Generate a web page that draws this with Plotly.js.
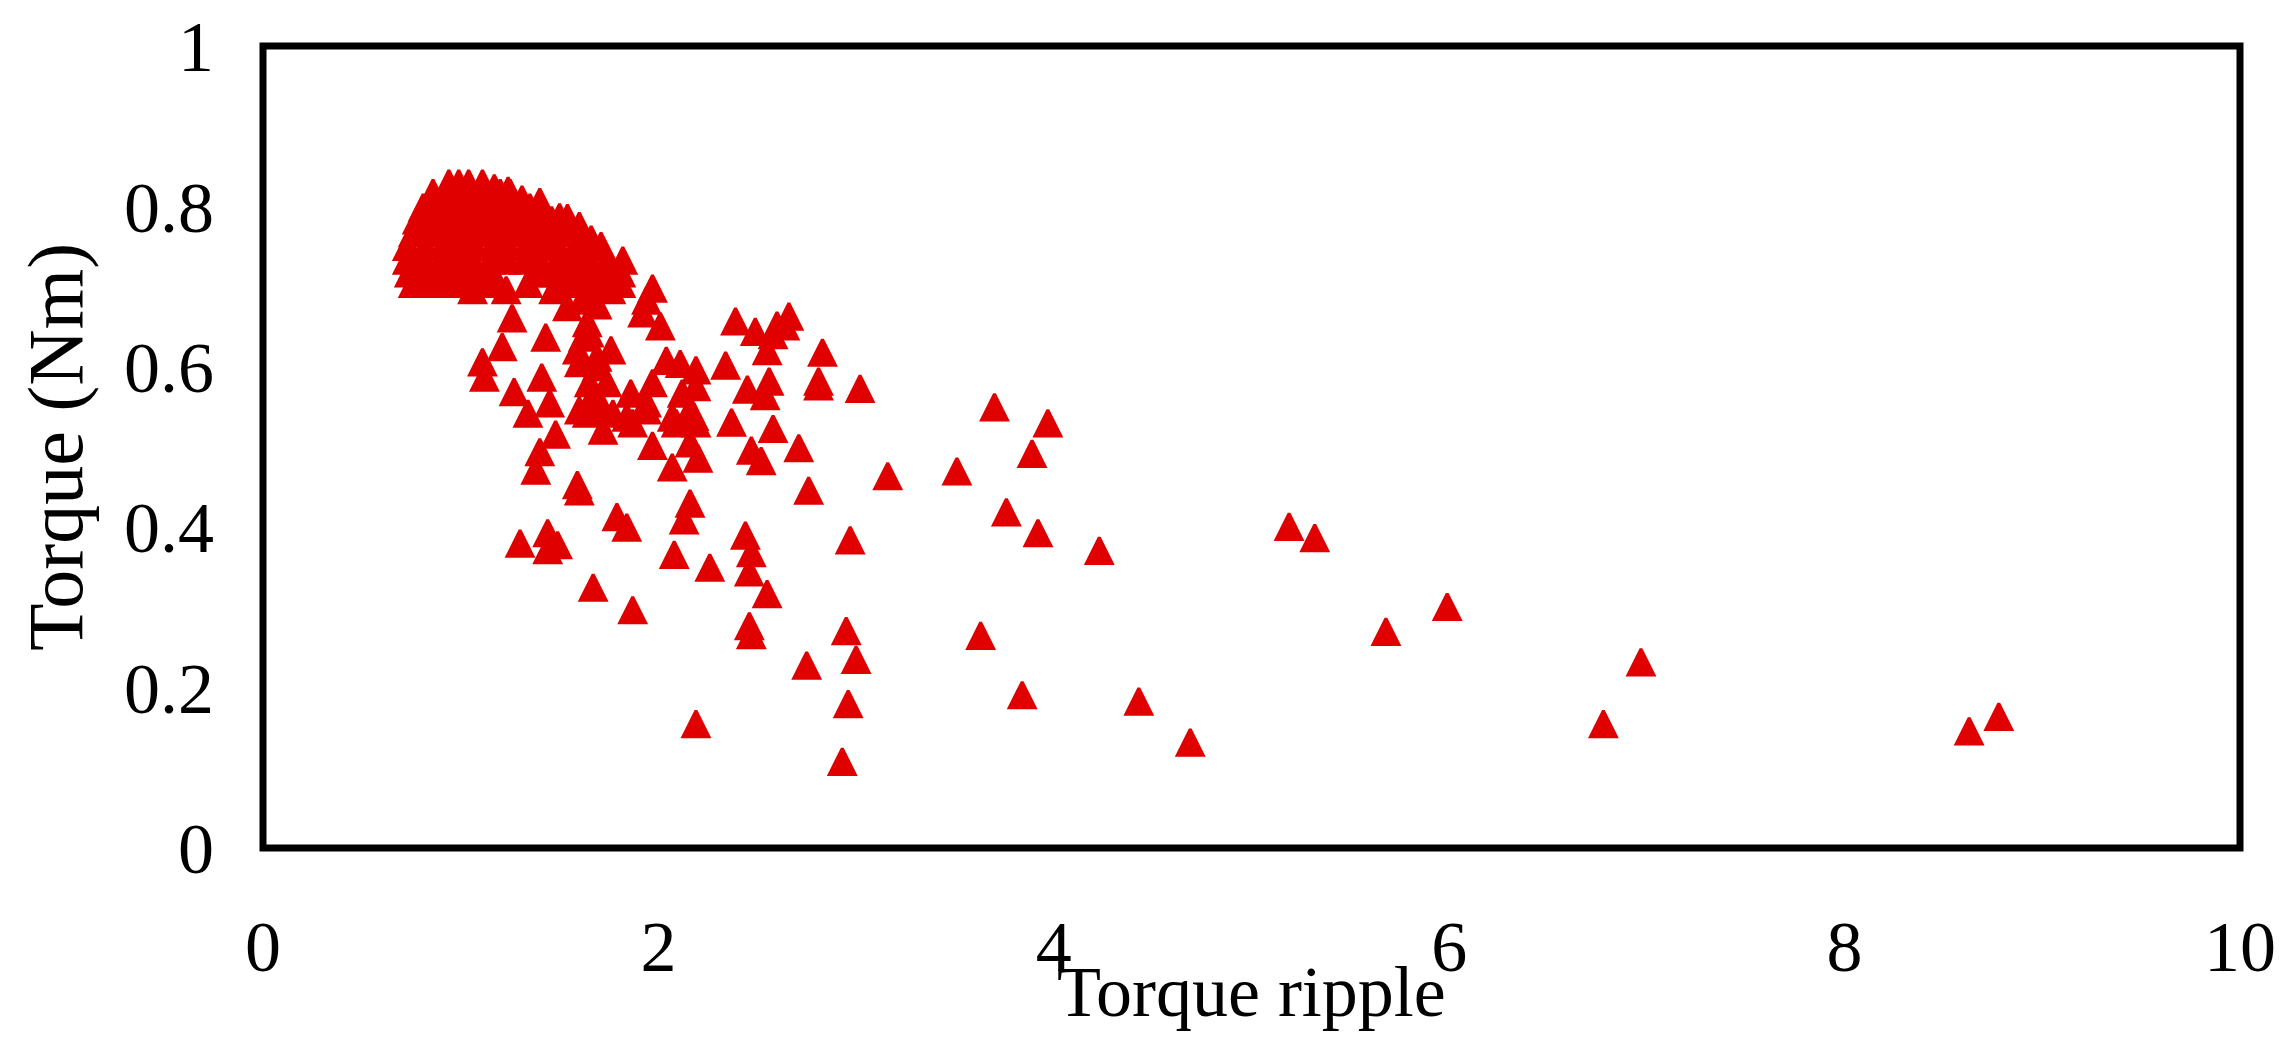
<!DOCTYPE html>
<html>
<head>
<meta charset="utf-8">
<script src="https://cdn.plot.ly/plotly-3.0.1.min.js"></script>
<style>
  html, body { margin: 0; padding: 0; background: #ffffff; }
  #chart { width: 2291px; height: 1055px; }
</style>
</head>
<body>
<div id="chart"></div>
<script>
// Torque ripple (x) vs Torque in Nm (y)
const torqueRipple = [
  // dense cluster
  0.94, 0.99, 1.04, 1.11,
  0.86, 0.93, 1.00, 1.06, 1.13, 1.20, 1.25, 1.17, 1.24, 1.31, 1.40,
  0.81, 0.88, 0.95, 1.01, 1.08, 1.15, 1.21, 1.28, 1.35, 1.40,
  1.50, 1.54, 1.60,
  0.78, 0.85, 0.93, 1.01, 1.08, 1.16, 1.23, 1.31, 1.39, 1.46,
  0.76, 0.84, 0.93, 1.01, 1.10, 1.18, 1.26, 1.35, 1.44, 1.52, 1.60, 1.66, 1.71,
  0.73, 0.82, 0.91, 0.99, 1.07, 1.16, 1.24, 1.33, 1.41, 1.49, 1.58, 1.66,
  0.73, 0.81, 0.90, 0.98, 1.06, 1.15, 1.23, 1.32, 1.40, 1.49, 1.57, 1.65, 1.74, 1.82,
  0.74, 0.83, 0.90, 1.00, 1.08, 1.16, 1.39, 1.47, 1.55, 1.64, 1.72, 1.81,
  0.76, 0.86, 0.96, 1.06, 1.15, 1.34, 1.54, 1.64, 1.74, 1.81,
  1.06, 1.23, 1.47, 1.64, 1.76,
  1.54, 1.69, 1.62,
  // middle group
  1.26, 1.21, 1.11, 1.12, 1.43, 1.41, 1.27, 1.34, 1.40, 1.38, 1.48, 1.59, 1.60,
  1.79, 1.84, 1.44, 1.30, 1.49, 1.44, 2.16, 2.13, 2.44, 2.08, 2.26, 1.67, 1.87, 2.19,
  1.62, 1.76, 1.60, 1.69, 1.64, 1.94, 1.92, 2.01, 1.97,
  2.04, 2.11, 2.19, 1.97, 2.19, 1.86, 1.94, 2.16, 2.07, 1.87, 2.19, 1.97, 2.16, 2.07, 2.20,
  1.69, 1.64, 1.72, 1.60, 1.77, 1.84,
  1.65, 1.59, 1.69, 1.45, 1.65, 1.64, 1.74, 1.69, 1.94, 2.12, 2.18, 2.09,
  // spread group
  2.39, 2.49, 2.66, 2.64, 2.55, 2.56, 2.45, 2.54, 2.34, 2.83, 2.81, 2.81, 3.02, 2.58, 2.60,
  2.37, 2.58, 2.47, 2.52, 2.71, 2.76, 3.16, 3.51, 3.70, 3.97, 3.89, 3.76, 3.92, 4.23,
  2.47, 2.46, 2.55, 2.97, 2.46, 2.47, 2.75, 2.95, 3.00, 3.63, 2.96, 2.93, 3.84, 4.43, 4.69,
  // far right
  5.19, 5.32, 5.68, 5.99, 6.78, 6.97, 8.63, 8.78
];
const torqueNm = [
  0.829, 0.829, 0.829, 0.829,
  0.817, 0.817, 0.817, 0.817, 0.817, 0.817, 0.817, 0.823, 0.820, 0.809, 0.806,
  0.799, 0.799, 0.799, 0.799, 0.799, 0.799, 0.799, 0.799, 0.799, 0.799,
  0.787, 0.786, 0.776,
  0.783, 0.783, 0.783, 0.783, 0.783, 0.783, 0.783, 0.783, 0.783, 0.783,
  0.767, 0.767, 0.767, 0.767, 0.767, 0.767, 0.767, 0.767, 0.767, 0.767, 0.767, 0.759, 0.751,
  0.750, 0.750, 0.750, 0.750, 0.750, 0.750, 0.750, 0.750, 0.750, 0.750, 0.750, 0.750,
  0.733, 0.733, 0.733, 0.733, 0.733, 0.733, 0.733, 0.733, 0.733, 0.733, 0.733, 0.733, 0.733, 0.733,
  0.717, 0.717, 0.717, 0.717, 0.717, 0.717, 0.717, 0.717, 0.717, 0.717, 0.717, 0.717,
  0.704, 0.704, 0.704, 0.704, 0.704, 0.704, 0.704, 0.704, 0.704, 0.704,
  0.696, 0.696, 0.696, 0.696, 0.696,
  0.675, 0.677, 0.683,
  0.661, 0.625, 0.606, 0.587, 0.637, 0.587, 0.569, 0.542, 0.494, 0.471, 0.516, 0.453, 0.445,
  0.413, 0.400, 0.393, 0.380, 0.378, 0.372, 0.430, 0.409, 0.390, 0.366, 0.350, 0.325, 0.297, 0.155,
  0.637, 0.621, 0.605, 0.600, 0.655, 0.683, 0.667, 0.651, 0.698,
  0.608, 0.604, 0.596, 0.580, 0.575, 0.567, 0.555, 0.546, 0.537, 0.530, 0.530, 0.502, 0.505, 0.475, 0.486,
  0.562, 0.542, 0.521, 0.546, 0.542, 0.537,
  0.642, 0.621, 0.612, 0.555, 0.580, 0.550, 0.580, 0.546, 0.546, 0.567, 0.538, 0.530,
  0.657, 0.644, 0.663, 0.651, 0.620, 0.582, 0.572, 0.564, 0.602, 0.618, 0.582, 0.576, 0.573, 0.640, 0.652,
  0.531, 0.523, 0.496, 0.483, 0.499, 0.446, 0.464, 0.470, 0.550, 0.530, 0.492, 0.419, 0.393, 0.371,
  0.368, 0.344, 0.317, 0.384, 0.277, 0.266, 0.228, 0.271, 0.235, 0.265, 0.180, 0.108, 0.191, 0.183, 0.132,
  0.401, 0.387, 0.270, 0.301, 0.155, 0.232, 0.146, 0.164
];

const xTickVals = [0, 2, 4, 6, 8, 10];
const xTickText = ['0', '2', '4', '6', '8', '10'];
const yTickVals = [0, 0.2, 0.4, 0.6, 0.8, 1];
const yTickText = ['0', '0.2', '0.4', '0.6', '0.8', '1'];
const xTitle = 'Torque ripple';
const yTitle = 'Torque (Nm)';

const FONT = '"Liberation Serif", "Times New Roman", Times, serif';
const RED = '#e00000';

const trace = {
  type: 'scatter',
  mode: 'markers',
  x: torqueRipple,
  y: torqueNm,
  marker: {
    // arrow-down turned by 180 deg = upward triangle; standoff re-centres it on the point
    symbol: 'arrow-down',
    angle: 180,
    size: 26,
    standoff: 13,
    color: RED,
    line: { color: RED, width: 3 }
  },
  hoverinfo: 'x+y',
  showlegend: false
};

const layout = {
  width: 2291,
  height: 1055,
  margin: { l: 263, r: 51, t: 46, b: 207, pad: 0 },
  paper_bgcolor: '#ffffff',
  plot_bgcolor: '#ffffff',
  font: { family: FONT, size: 72, color: '#000000' },
  showlegend: false,
  xaxis: {
    range: [0, 10],
    tickmode: 'array',
    tickvals: xTickVals,
    ticktext: xTickText,
    ticks: '',
    showgrid: false,
    zeroline: false,
    showline: false,
    ticklabelstandoff: 50,
    tickfont: { family: FONT, size: 72, color: '#000000' },
    fixedrange: true
  },
  yaxis: {
    range: [0, 1],
    tickmode: 'array',
    tickvals: yTickVals,
    ticktext: yTickText,
    ticks: '',
    showgrid: false,
    zeroline: false,
    showline: false,
    ticklabelstandoff: 48,
    tickfont: { family: FONT, size: 72, color: '#000000' },
    fixedrange: true
  },
  shapes: [{
    type: 'rect', xref: 'paper', yref: 'paper',
    x0: 0, x1: 1, y0: 0, y1: 1,
    line: { color: '#000000', width: 7 },
    fillcolor: 'rgba(0,0,0,0)',
    layer: 'above'
  }],
  annotations: [
    {
      text: xTitle, xref: 'paper', yref: 'paper', x: 0.5, y: 0,
      xanchor: 'center', yanchor: 'middle', yshift: -144, showarrow: false,
      font: { family: FONT, size: 72, color: '#000000' }
    },
    {
      text: yTitle, xref: 'paper', yref: 'paper', x: 0, y: 0.5,
      xanchor: 'center', yanchor: 'middle', xshift: -208, textangle: -90, showarrow: false,
      font: { family: FONT, size: 78, color: '#000000' }
    }
  ]
};

Plotly.newPlot('chart', [trace], layout, { displayModeBar: false, staticPlot: true });
</script>
</body>
</html>
